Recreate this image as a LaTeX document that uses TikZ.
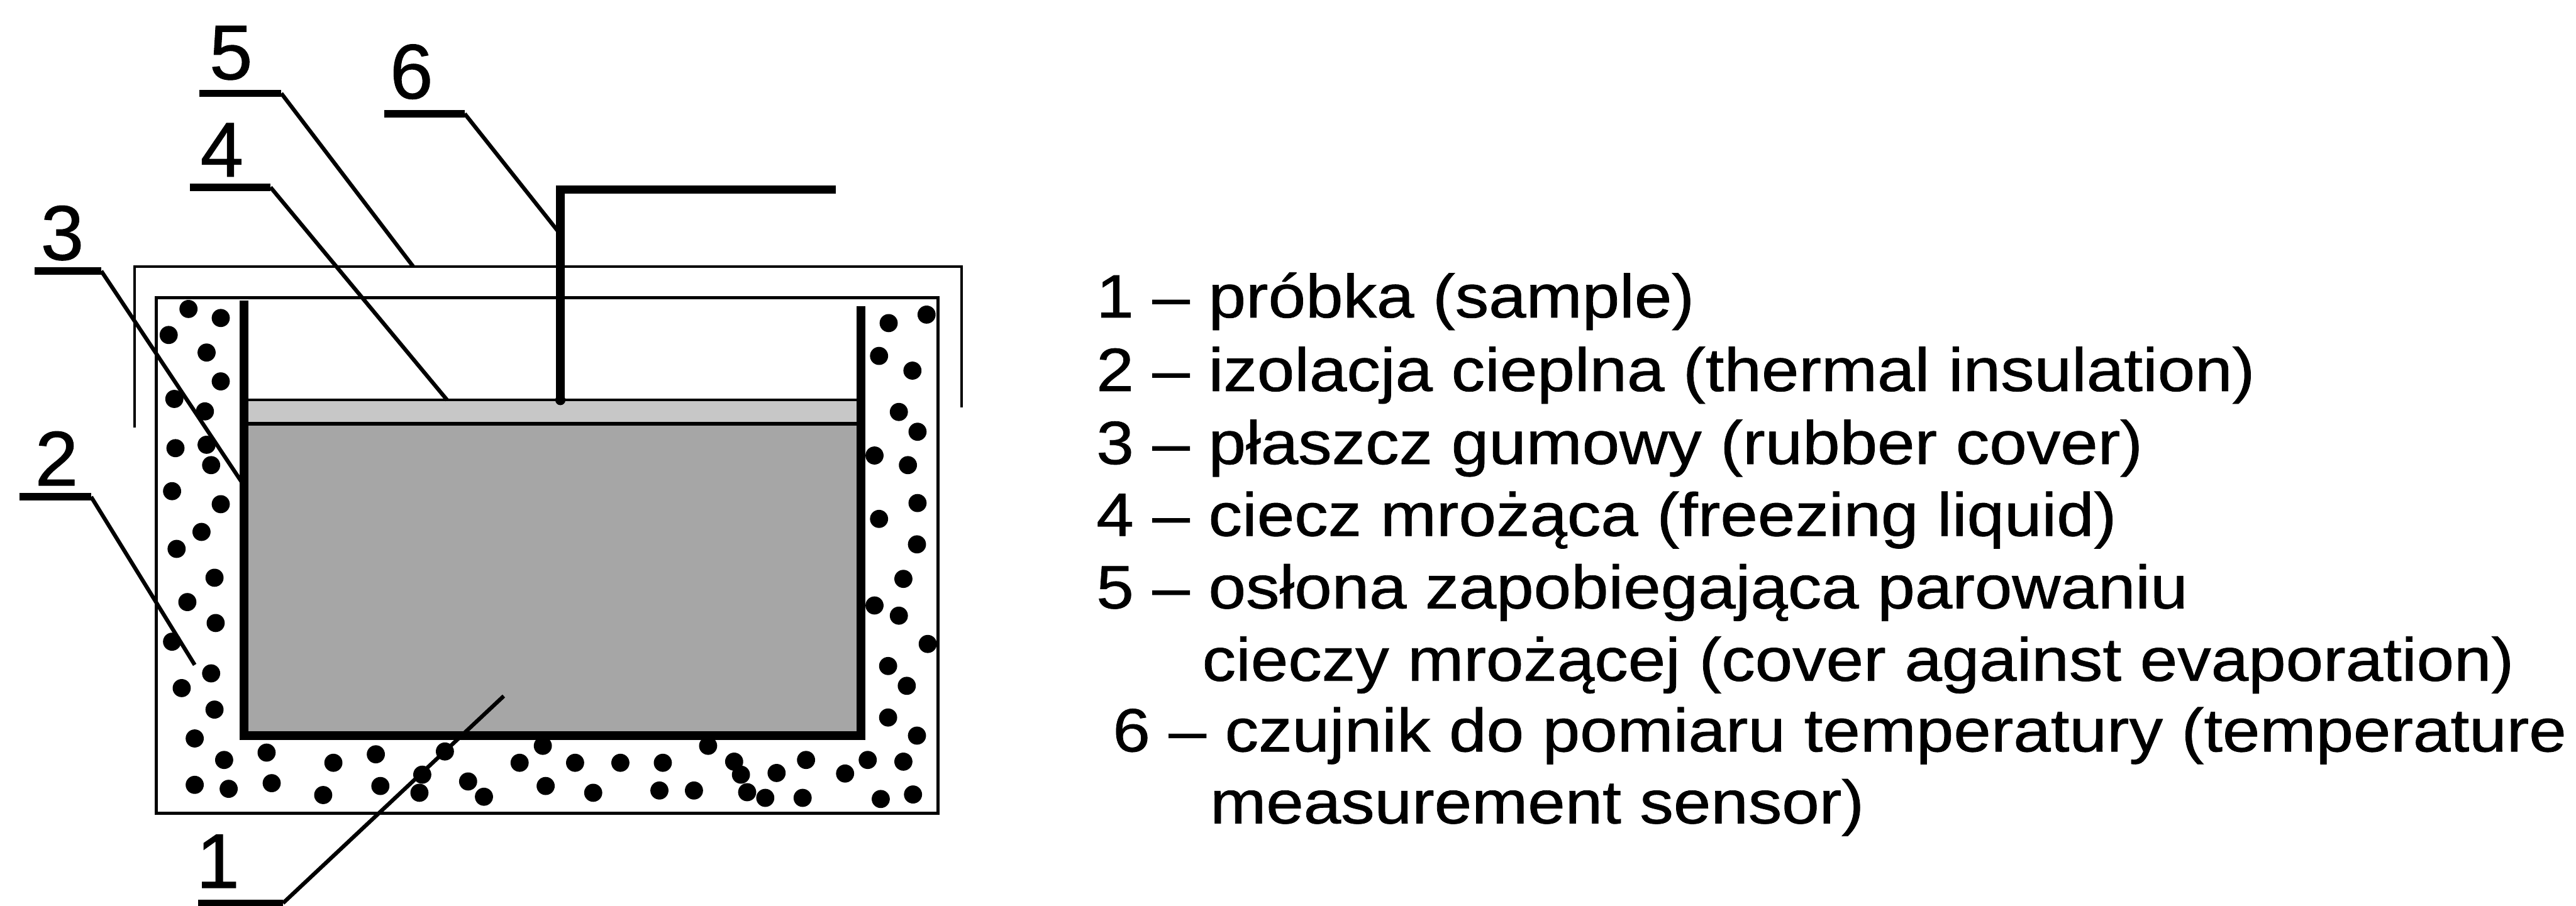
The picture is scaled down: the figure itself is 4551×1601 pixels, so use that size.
\documentclass[tikz,border=0pt]{standalone}
\usepackage{fontspec}
\setmainfont{Liberation Sans}
\newfontfamily\labelfont[FakeBold=0.8]{Liberation Sans}
\newfontfamily\legendfont[FakeStretch=1.1,FakeBold=0.8]{Liberation Sans}

\begin{document}
\begin{tikzpicture}[x=0.1pt,y=-0.1pt,
		thinwall/.style={line width=0.5pt},
		rubber/.style={line width=1.6pt,line join=miter},
		sensor/.style={line width=1.5pt},
		leader/.style={line width=0.7pt},
		tick/.style={line width=1.3pt},
		numlab/.style={anchor=base,inner sep=0pt,font=\labelfont\fontsize{13.7pt}{16pt}\selectfont},
		legend/.style={anchor=base west,inner sep=0pt,font=\legendfont\fontsize{10.8pt}{12.8pt}\selectfont}]
		\useasboundingbox (0,0) rectangle (4551,1601);
		
		% cover against evaporation and insulated box
		\draw[thinwall] (238,756) -- (238,471) -- (1699,471) -- (1699,720);
		\draw[thinwall] (276,526) rectangle (1657,1437);
		
		% insulation grains
		\foreach \x/\y in {333/546,390/562,298/592,365/623,390/674,308/705,362/727,310/792,
			365/786,373/822,304/868,390/891,356/940,312/970,379/1021,331/1064,381/1101,
			304/1134,373/1190,321/1216,379/1254,344/1305,
			1570/571,1637/556,1553/629,1612/655,1588/728,1621/763,1545/805,1604/822,
			1621/889,1553/917,1620/962,1596/1023,1545/1070,1588/1088,1639/1138,1569/1177,
			1602/1212,1569/1268,1620/1300,
			396/1343,471/1330,589/1348,664/1333,786/1328,959/1318,918/1348,1016/1348,
			1096/1348,1171/1348,1251/1318,1297/1346,1309/1369,1372/1366,1424/1343,
			1493/1367,1533/1343,1596/1346,344/1387,404/1394,480/1384,571/1405,
			672/1389,741/1401,827/1381,855/1408,964/1389,1048/1401,1165/1397,1226/1397,
			1320/1400,1352/1410,1418/1410,1556/1412,1613/1404,746/1369}
			\fill (\x,\y) circle[radius=1.6pt];
		
		% freezing liquid and sample
		\fill[black!22] (431,707) rectangle (1521,749);
		\fill[black!35] (431,749) rectangle (1521,1300);
		\draw[line width=0.45pt] (431,707) -- (1521,707);
		\draw[line width=0.6pt] (431,749) -- (1521,749);
		
		% rubber cover
		\draw[rubber] (431,531) -- (431,1300) -- (1521,1300) -- (1521,541);
		
		% temperature sensor
		\draw[sensor] (1477,335) -- (990,335) -- (990,707);
		\fill (990,707) circle[radius=0.9pt];
		
		% points the leaders end at
		\coordinate (p1) at (890,1230);
		\coordinate (p2) at (344,1175);
		\coordinate (p3) at (431,858);
		\coordinate (p4) at (790,707);
		\coordinate (p5) at (730,471);
		\coordinate (p6) at (990,414);
		
		% numbers with underline and leader
		\foreach \i/\x/\y/\u/\a/\b in {1/385/1569/1596/350/500,2/100/858/878/34/161,
			3/110/459/479/61/179,4/392/312/331/335/478,
			5/408/140/165/352/497,6/727/174/201/679/821}{
			\node[numlab] (n\i) at (\x,\y) {\i};
			\coordinate (ua\i) at (\a,\u);
			\coordinate (ub\i) at (\b,\u);
			\draw[tick] (ua\i) -- (ub\i);
			\draw[leader] (ub\i) -- (p\i);
		}
		
		% legend
		\node[legend] (l1) at (1935,561) {1 – próbka (sample)};
		\node[legend] (l2) at (1935,691) {2 – izolacja cieplna (thermal insulation)};
		\node[legend] (l3) at (1935,820) {3 – płaszcz gumowy (rubber cover)};
		\node[legend] (l4) at (1935,947) {4 – ciecz mrożąca (freezing liquid)};
		\node[legend] (l5) at (1935,1075) {5 – osłona zapobiegająca parowaniu};
		\node[legend] (l5b) at (2122,1203) {cieczy mrożącej (cover against evaporation)};
		\node[legend] (l6) at (1964,1328) {6 – czujnik do pomiaru temperatury (temperature};
		\node[legend] (l6b) at (2136,1455) {measurement sensor)};
	\end{tikzpicture}
\end{document}
